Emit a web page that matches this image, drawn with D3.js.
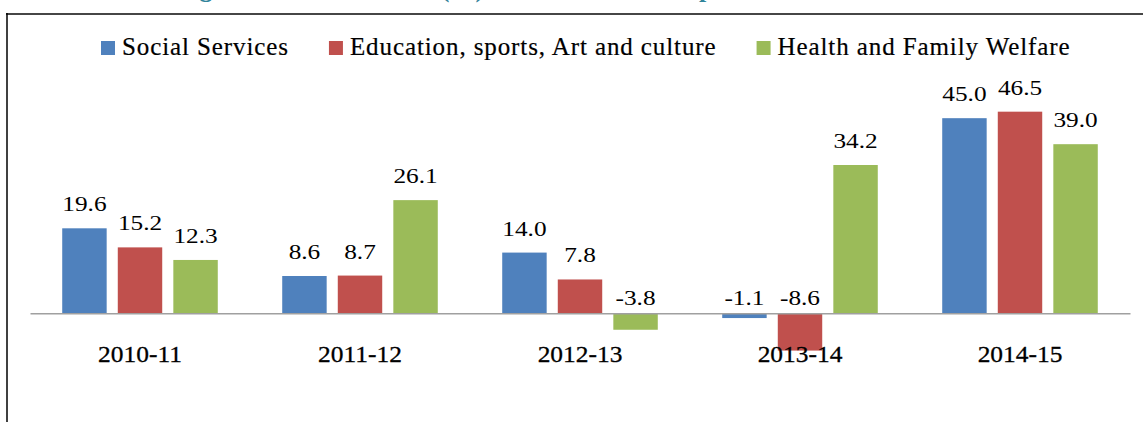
<!DOCTYPE html>
<html>
<head>
<meta charset="utf-8">
<script src="https://cdn.jsdelivr.net/npm/d3@7"></script>
<style>
  body { margin: 0; background: #fff; }
</style>
</head>
<body>
<div id="myChart"></div>
<script>
// data
const categories = ["2010-11", "2011-12", "2012-13", "2013-14", "2014-15"];
const seriesNames = ["Social Services", "Education, sports, Art and culture", "Health and Family Welfare"];
const socialServices = [19.6, 8.6, 14.0, -1.1, 45.0];
const education = [15.2, 8.7, 7.8, -8.6, 46.5];
const health = [12.3, 26.1, -3.8, 34.2, 39.0];
const colors = ["#4f81bd", "#c0504d", "#9bbb59"];
const titleText = "Annual Change in Total Allocation (%) under the Most Important Heads";

let width = 1143, height = 422;
let seriesValues = [socialServices, education, health];
let serif = "Liberation Serif";

let svg = d3.select("#myChart").append("svg")
    .attr("width", width)
    .attr("height", height);

// title of the page, mostly cut off at the top
svg.append("text")
    .attr("x", 50)
    .attr("y", -3)
    .attr("fill", "#31849b")
    .attr("font-family", serif)
    .attr("font-size", 26)
    .attr("font-weight", "bold")
    .text(titleText);

// chart frame
svg.append("line")
    .attr("x1", 6).attr("x2", width)
    .attr("y1", 14).attr("y2", 14)
    .attr("stroke", "#464646")
    .attr("stroke-width", 2);
svg.append("line")
    .attr("x1", 7).attr("x2", 7)
    .attr("y1", 13).attr("y2", height)
    .attr("stroke", "#000")
    .attr("stroke-width", 1.5);

// scales
let x = d3.scaleBand()
    .domain(categories)
    .range([30, 1130]);
let x1 = d3.scaleBand()
    .domain(d3.range(seriesNames.length))
    .range([0, x.bandwidth()])
    .paddingInner(0.2)
    .paddingOuter(0.58);
let y = d3.scaleLinear()
    .domain([-20, 50])
    .range([400, 96.5]);

// bars
let groups = svg.selectAll(".group")
    .data(categories)
    .enter()
    .append("g")
    .attr("class", "group")
    .attr("transform", function(d) { return "translate(" + x(d) + ",0)"; });

groups.selectAll("rect")
    .data(function(d, i) {
        return seriesValues.map(function(s, j) { return { s: j, v: s[i] }; });
    })
    .enter()
    .append("rect")
    .attr("x", function(d) { return x1(d.s); })
    .attr("width", x1.bandwidth())
    .attr("y", function(d) { return y(Math.max(0, d.v)); })
    .attr("height", function(d) { return Math.abs(y(d.v) - y(0)); })
    .attr("fill", function(d) { return colors[d.s]; });

// value labels (negatives sit above the zero line)
groups.selectAll(".val")
    .data(function(d, i) {
        return seriesValues.map(function(s, j) { return { s: j, v: s[i] }; });
    })
    .enter()
    .append("text")
    .attr("class", "val")
    .attr("transform", function(d) {
        let ty = d.v >= 0 ? y(d.v) - 17 : y(0) - 8;
        return "translate(" + (x1(d.s) + x1.bandwidth() / 2) + "," + ty + ") scale(1.15,1)";
    })
    .attr("font-family", serif)
    .attr("font-size", 22)
    .attr("text-anchor", "middle")
    .attr("fill", "#000")
    .text(function(d) { return d.v.toFixed(1); });

// zero axis
svg.append("g")
    .attr("transform", "translate(0," + y(0) + ")")
    .call(d3.axisBottom(x).tickSize(0).tickPadding(0))
    .call(function(g) {
        g.select(".domain").attr("stroke", "#a0a0a0").attr("stroke-width", 1.5);
        g.selectAll("text").remove();
    });

// category labels
svg.selectAll(".cat")
    .data(categories)
    .enter()
    .append("text")
    .attr("class", "cat")
    .attr("transform", function(d) {
        return "translate(" + (x(d) + x.bandwidth() / 2) + ",361.5) scale(1.06,1)";
    })
    .attr("font-family", serif)
    .attr("font-size", 24)
    .attr("text-anchor", "middle")
    .attr("fill", "#000")
    .attr("stroke", "#000")
    .attr("stroke-width", 0.3)
    .text(function(d) { return d; });

// legend
let legend = svg.append("g").attr("transform", "translate(101,0)");
let lx = 0;
seriesNames.forEach(function(name, i) {
    legend.append("rect")
        .attr("x", lx).attr("y", 41)
        .attr("width", 14).attr("height", 14)
        .attr("fill", colors[i]);
    let t = legend.append("text")
        .attr("x", lx + 21).attr("y", 55)
        .attr("font-family", serif)
        .attr("font-size", 25)
        .attr("letter-spacing", 0.9)
        .attr("fill", "#000")
        .attr("stroke", "#000")
        .attr("stroke-width", 0.2)
        .text(name);
    lx += 21 + t.node().getComputedTextLength() + 40;
});
</script>
</body>
</html>
